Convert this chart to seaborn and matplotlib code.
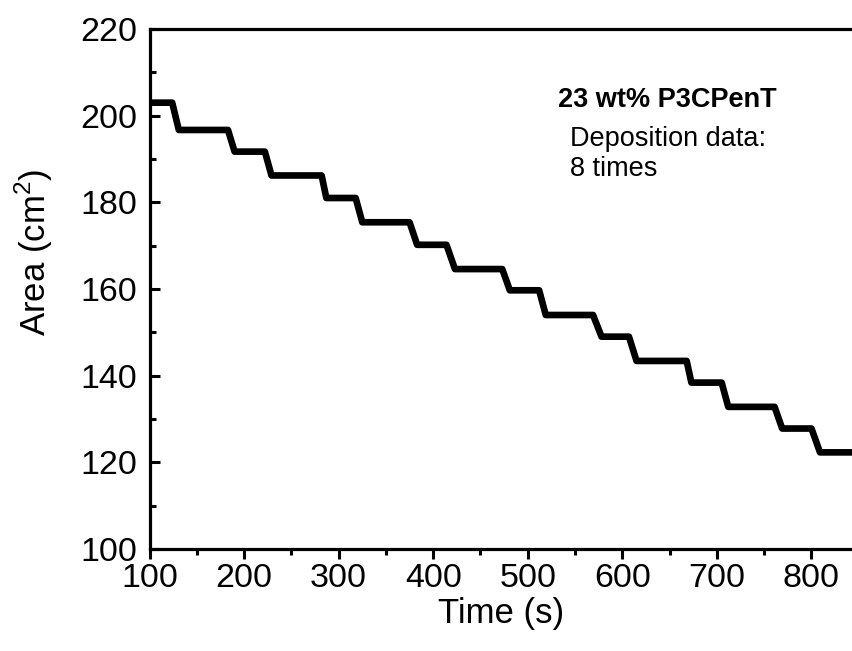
import numpy as np
import pandas as pd
import matplotlib
matplotlib.use("Agg")
import matplotlib.pyplot as plt
import seaborn as sns
from matplotlib.ticker import MultipleLocator

# ---- data ----
level_area = [203.0, 196.7, 191.7, 186.2, 181.0, 175.4, 170.2, 164.6,
              159.7, 154.0, 149.0, 143.4, 138.4, 132.8, 127.8, 122.3]
drop_start = [124, 183, 222, 282, 318, 375, 414, 473, 512, 569, 607, 668, 705, 761, 800]
drop_end = [131, 190, 229, 287, 325, 383, 423, 481, 519, 578, 615, 673, 712, 769, 809]
t_first = 100
t_last = 850

xticks = [100, 200, 300, 400, 500, 600, 700, 800]
yticks = [100, 120, 140, 160, 180, 200, 220]

# build step trace
seg_starts = [t_first] + drop_end
seg_ends = drop_start + [t_last]
times, areas = [], []
for s, e, a in zip(seg_starts, seg_ends, level_area):
    times += [s, e]
    areas += [a, a]
df = pd.DataFrame({"Time": times, "Area": areas})

sns.set_theme(style="ticks")
plt.rcParams["font.family"] = ["Liberation Sans", "DejaVu Sans"]
plt.rcParams["mathtext.fontset"] = "custom"
plt.rcParams["mathtext.rm"] = "Liberation Sans"
plt.rcParams["text.color"] = "black"
plt.rcParams["axes.labelcolor"] = "black"
plt.rcParams["xtick.color"] = "black"
plt.rcParams["ytick.color"] = "black"

fig = plt.figure(figsize=(8.53, 6.51), dpi=100)
ax = fig.add_axes([149.5 / 853, 102 / 651, 1 - 149.5 / 853, 520 / 651])

sns.lineplot(data=df, x="Time", y="Area", sort=False, color="black",
             linewidth=4.8, ax=ax, estimator=None)

ax.set_xlim(100, 100 + (853 - 149.5) / 0.9457)
ax.set_ylim(100, 220)
ax.set_xticks(xticks)
ax.set_yticks(yticks)
ax.xaxis.set_minor_locator(MultipleLocator(50))
ax.yaxis.set_minor_locator(MultipleLocator(10))

for side in ["left", "bottom", "top"]:
    ax.spines[side].set_linewidth(2.3)
    ax.spines[side].set_color("black")
ax.spines["right"].set_visible(False)

ax.tick_params(axis="x", which="major", direction="out", length=7, width=2.2,
               labelsize=24.5, pad=3)
ax.tick_params(axis="x", which="minor", direction="out", length=4, width=2.2)
ax.tick_params(axis="y", which="major", direction="in", length=7, width=2.2,
               labelsize=24.5, pad=9)
ax.tick_params(axis="y", which="minor", direction="in", length=4, width=2.2)
ax.tick_params(top=False, right=False, which="both")

ax.set_xlabel("Time (s)", fontsize=25, labelpad=2)
ax.set_ylabel("Area (cm$^2$)", fontsize=25)
ax.yaxis.set_label_coords(-0.135, 0.57)

ax.text(0.581, 0.850, "23 wt% P3CPenT", transform=ax.transAxes,
        fontsize=19.5, fontweight="bold", ha="left", va="baseline")
ax.text(0.598, 0.775, "Deposition data:", transform=ax.transAxes,
        fontsize=19.5, ha="left", va="baseline")
ax.text(0.598, 0.717, "8 times", transform=ax.transAxes,
        fontsize=19.5, ha="left", va="baseline")

fig.savefig("out.png", dpi=100)
